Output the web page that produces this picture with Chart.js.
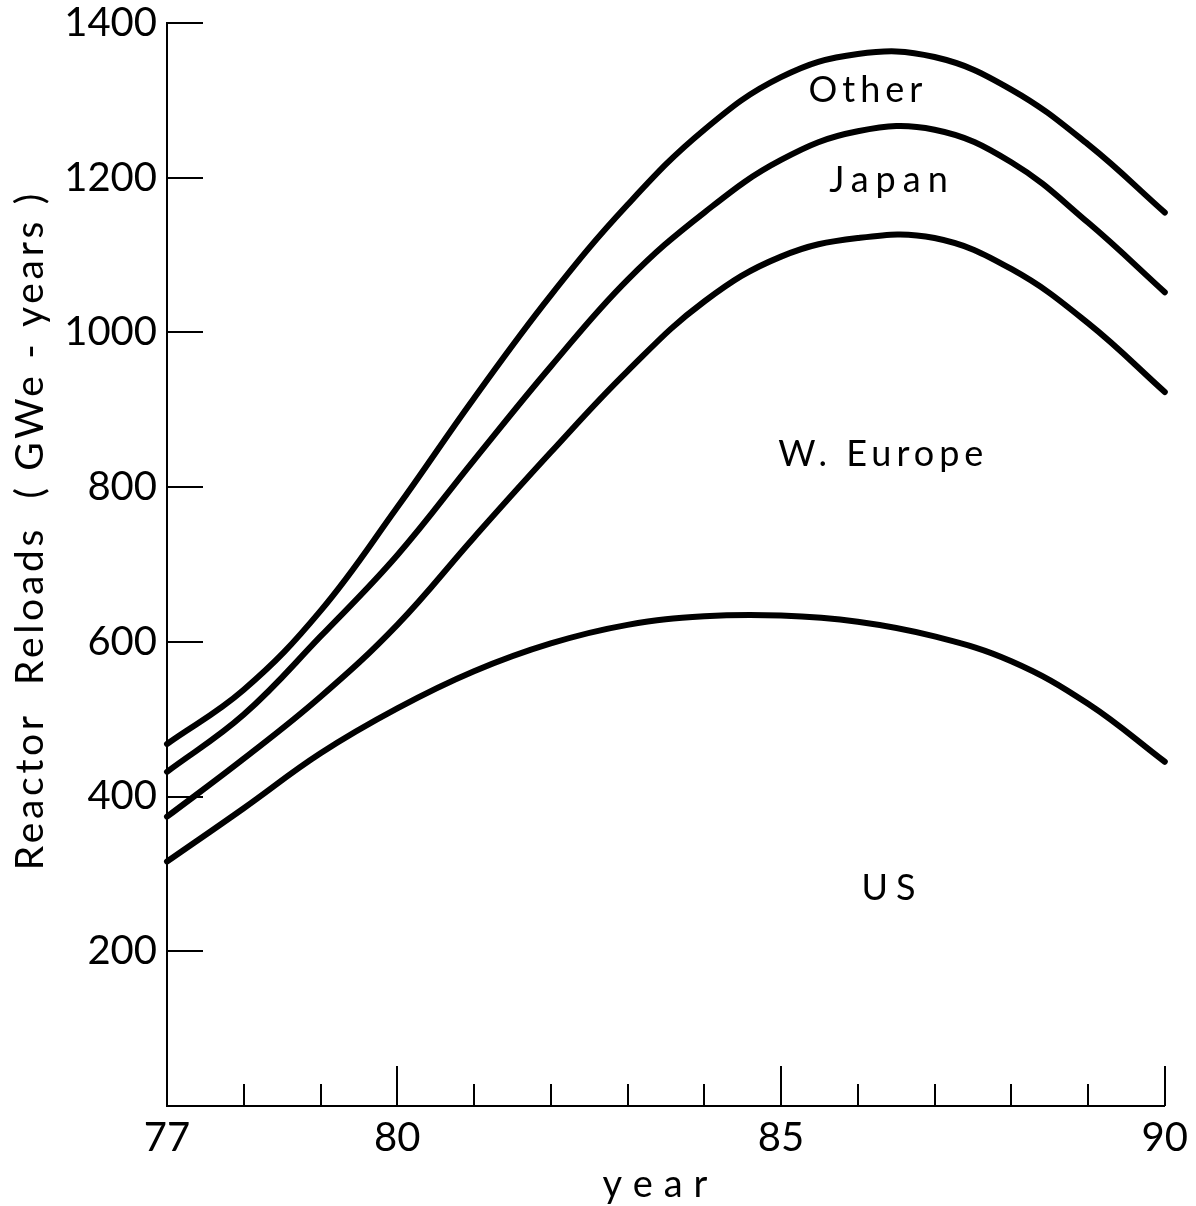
<!DOCTYPE html>
<html>
<head>
<meta charset="utf-8">
<script src="https://cdn.jsdelivr.net/npm/chart.js@4.4.1/dist/chart.umd.min.js"></script>
<style>
  html, body { margin: 0; padding: 0; background: #fff; }
  #wrap { width: 1196px; height: 1206px; }
</style>
</head>
<body>
<div id="wrap"><canvas id="reloads"></canvas></div>
<script>
// years on the x axis (19xx)
var years = [77, 78, 79, 80, 81, 82, 83, 84, 85, 86, 87, 88, 89, 90];
var yearLabels = [77, 80, 85, 90];
var yTicks = [200, 400, 600, 800, 1000, 1200, 1400];

// cumulative reactor reloads, GWe-years (stacked curves)
var us      = [316, 385, 456, 514, 562, 598, 622, 633, 634, 626, 607, 575, 520, 445];
var wEurope = [374, 449, 529, 622, 735, 845, 950, 1040, 1098, 1122, 1122, 1082, 1012, 923];
var japan   = [432, 506, 607, 712, 835, 956, 1068, 1155, 1223, 1260, 1262, 1220, 1142, 1052];
var other   = [468, 538, 640, 774, 915, 1048, 1165, 1262, 1330, 1360, 1356, 1314, 1243, 1155];

var fonts = "Lato, 'DejaVu Sans', sans-serif";

function toPoints(values) {
	return years.map(function (yr, i) { return { x: yr, y: values[i] }; });
}

function curve(label, values) {
	return {
		label: label,
		data: toPoints(values),
		borderColor: "#000",
		borderWidth: 6,
		borderCapStyle: "round",
		borderJoinStyle: "round",
		pointRadius: 0,
		fill: false,
		tension: 0.4,
		clip: 6
	};
}

// in-plot labels, placed in data units
var regionLabels = [
	{ text: "Other",     x: 86.1, y: 1313, gap: 5 },
	{ text: "Japan",     x: 86.4, y: 1196, gap: 7 },
	{ text: "W. Europe", x: 86.3, y: 842,  gap: 5 },
	{ text: "US",        x: 86.4, y: 281,  gap: 8 }
];

function spacedText(ctx, text, x, y, spacing) {
	ctx.letterSpacing = spacing + "px";
	ctx.fillText(text, x + spacing / 2, y);
	ctx.letterSpacing = "0px";
}

var inwardTicks = {
	id: "inwardTicks",
	afterDraw: function (chart) {
		var ctx = chart.ctx
		  , xs = chart.scales.x
		  , ys = chart.scales.y
		  , area = chart.chartArea;

		ctx.save();
		ctx.strokeStyle = "#000";
		ctx.lineWidth = 2;
		ctx.beginPath();
		yTicks.forEach(function (v) {
			var py = Math.round(ys.getPixelForValue(v));
			ctx.moveTo(area.left, py);
			ctx.lineTo(area.left + 36, py);
		});
		years.forEach(function (v) {
			if (v === years[0]) return;
			var px = Math.round(xs.getPixelForValue(v))
			  , len = yearLabels.indexOf(v) >= 0 ? 40 : 22;
			ctx.moveTo(px, area.bottom);
			ctx.lineTo(px, area.bottom - len);
		});
		ctx.stroke();

		ctx.fillStyle = "#000";
		ctx.textAlign = "center";
		ctx.textBaseline = "middle";
		ctx.font = "36px " + fonts;
		regionLabels.forEach(function (l) {
			spacedText(ctx, l.text, xs.getPixelForValue(l.x), ys.getPixelForValue(l.y), l.gap);
		});

		// x title
		ctx.font = "38px " + fonts;
		spacedText(ctx, "year", 655, 1185, 11);

		// y title
		ctx.translate(30, 532);
		ctx.rotate(-Math.PI / 2);
		ctx.font = "39px " + fonts;
		spacedText(ctx, "Reactor  Reloads  ( GWe - years )", 0, 0, 3.7);
		ctx.restore();
	}
};

var ctx = document.getElementById("reloads").getContext("2d");

var reloadsChart = new Chart(ctx, {
	type: "line",
	data: {
		datasets: [
			curve("US", us),
			curve("W. Europe", wEurope),
			curve("Japan", japan),
			curve("Other", other)
		]
	},
	options: {
		responsive: true,
		maintainAspectRatio: false,
		animation: false,
		devicePixelRatio: 1,
		layout: { padding: { top: 23, right: 26, left: 0, bottom: 0 } },
		plugins: {
			legend: { display: false },
			tooltip: { enabled: false }
		},
		scales: {
			x: {
				type: "linear",
				min: 77,
				max: 90,
				grid: { display: false, drawTicks: false },
				border: { display: true, color: "#000", width: 2 },
				ticks: {
					stepSize: 1,
					autoSkip: false,
					maxRotation: 0,
					padding: 8,
					color: "#000",
					font: { family: fonts, size: 40 },
					callback: function (v) { return yearLabels.indexOf(v) >= 0 ? String(v) : ""; }
				},
				afterFit: function (s) { s.height = 100; }
			},
			y: {
				min: 0,
				max: 1400,
				grid: { display: false, drawTicks: false },
				border: { display: true, color: "#000", width: 2 },
				ticks: {
					stepSize: 200,
					padding: 10,
					color: "#000",
					font: { family: fonts, size: 40 },
					callback: function (v) { return v === 0 ? "" : String(v); }
				},
				afterFit: function (s) {
					s.width = 167;
					s.paddingTop = 0;
					s.paddingBottom = 0;
				}
			}
		}
	},
	plugins: [inwardTicks]
});
</script>
</body>
</html>
